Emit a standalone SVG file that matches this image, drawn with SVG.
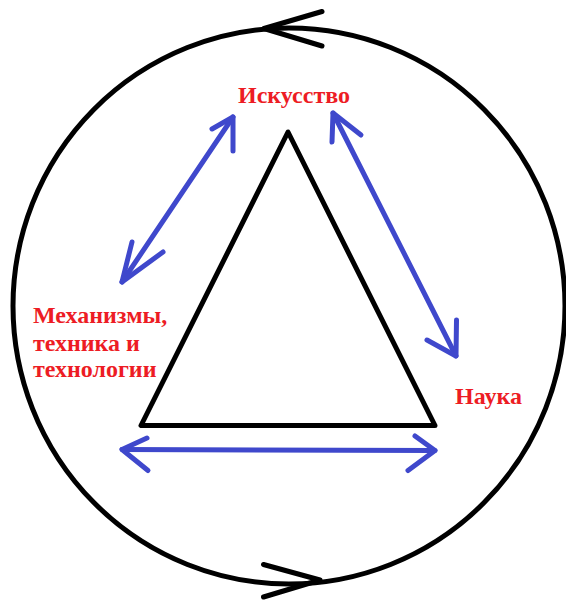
<svg xmlns="http://www.w3.org/2000/svg" width="566" height="600" viewBox="0 0 566 600">
<style>
.blk{fill:none;stroke:#000;stroke-width:5;stroke-linecap:round;stroke-linejoin:round}
.blu{fill:none;stroke:#3f48cc;stroke-width:5;stroke-linecap:round;stroke-linejoin:round}
.lbl{font-family:"Liberation Serif","Times New Roman",serif;font-weight:bold;font-size:24px;fill:#ed1c24}
</style>
<rect width="566" height="600" fill="#fff"/>
<g id="cycle">
<ellipse cx="289" cy="306" rx="276" ry="278" class="blk"/>
<polyline points="322,11.5 264,28.5 322,46" class="blk"/>
<polyline points="263.5,564.5 320,580 263.5,597" class="blk"/>
</g>
<g id="triangle">
<polygon points="288,132 141,425.5 435,425.5" class="blk" stroke-linejoin="miter"/>
</g>
<g id="art"><text class="lbl" x="238" y="103">Искусство</text></g>
<g id="science"><text class="lbl" x="455" y="404">Наука</text></g>
<g id="tech"><text class="lbl" x="33" y="323">Механизмы,</text><text class="lbl" x="33" y="351">техника и</text><text class="lbl" x="33" y="377">технологии</text></g>
<g id="connectors">
<line x1="233" y1="117" x2="122" y2="282" class="blu"/>
<polyline points="212,129 233,117 233,151" class="blu"/>
<polyline points="132,242 122,282 163,252" class="blu"/>
<line x1="333" y1="113" x2="456" y2="356" class="blu"/>
<polyline points="332,142 333,113 361,135" class="blu"/>
<polyline points="456.5,320 456,356 427,340" class="blu"/>
<line x1="122" y1="449.5" x2="435" y2="450.5" class="blu"/>
<polyline points="147,438 122,449.5 148,470.5" class="blu"/>
<polyline points="415,436 435,450.5 408,470.5" class="blu"/>
</g>
</svg>
